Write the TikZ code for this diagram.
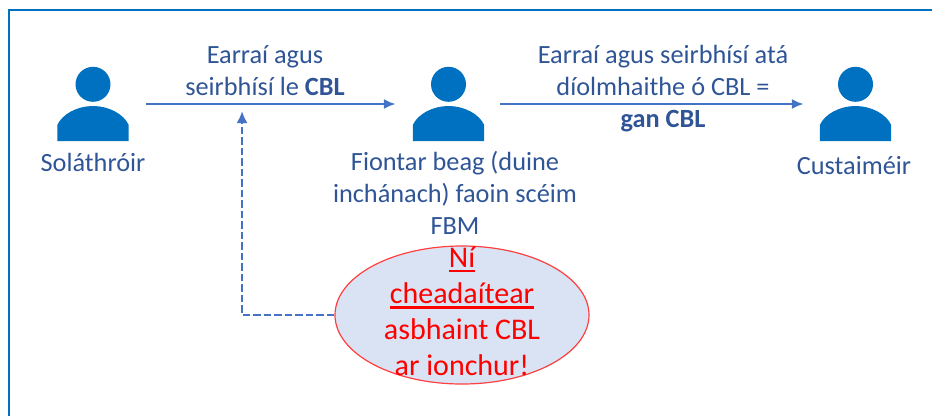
\documentclass[tikz,border=0pt]{standalone}
\usepackage{fontspec}
\setmainfont{Carlito}
\usetikzlibrary{shapes.geometric,arrows.meta}
\definecolor{frameblue}{HTML}{0070C0}
\definecolor{labelblue}{HTML}{2F5597}
\definecolor{arrowblue}{HTML}{4472C4}
\definecolor{ovalfill}{HTML}{DAE3F3}
\newcommand{\redul}[2]{\setbox0\hbox{#2}\rlap{\raisebox{#1}{\rule{\wd0}{2.4pt}}}\box0}
\tikzset{
  person/.style={minimum width=71pt,minimum height=74pt,inner sep=0pt},
  label/.style={text=labelblue,font=\fontsize{26.3}{32}\selectfont,align=center,inner sep=0pt,anchor=north},
  redtext/.style={text=red,font=\fontsize{30}{35.8}\selectfont,align=center,inner sep=0pt,anchor=north},
  flow/.style={draw=arrowblue,line width=2.4pt,-{Latex[length=12pt,width=10pt]}},
  dashflow/.style={draw=arrowblue,line width=2.4pt,dash pattern=on 7.5pt off 3pt,-{Latex[length=12pt,width=11pt]}},
}
\newcommand{\persondraw}[1]{%
  \fill[frameblue] (#1.north) ++(0,17.5) circle (17.5pt);
  \fill[frameblue] (#1.south west) -- ([yshift=-21pt]#1.west) .. controls ([xshift=5pt,yshift=-10pt]#1.west) and ([xshift=20pt,yshift=-2pt]#1.west) .. ([yshift=-2pt]#1.center) .. controls ([xshift=-20pt,yshift=-2pt]#1.east) and ([xshift=-5pt,yshift=-10pt]#1.east) .. ([yshift=-21pt]#1.east) -- (#1.south east) -- cycle;
}
\begin{document}
\begin{tikzpicture}[x=1pt,y=-1pt]
\useasboundingbox (0,0) rectangle (932,416);
\draw[frameblue,line width=2pt] (9,416) -- (9,10) -- (932,10);
\node[person] (sup) at (93,104) {};
\node[person] (sme) at (448.5,104) {};
\node[person] (cus) at (855.5,104) {};
\foreach \n in {sup,sme,cus}{\persondraw{\n}}
\node[label,anchor=base] (supl) at (93,171) {Soláthróir};
\node[label,anchor=base] (cusl) at (854,174) {Custaiméir};
\node[label] (l1) at (265,45) {Earraí agus\\seirbhísí le \textbf{CBL}};
\node[label] (l2) at (663,45) {Earraí agus seirbhísí atá\\díolmhaithe ó CBL =\\\textbf{gan CBL}};
\node[label] (l3) at (455,151) {Fiontar beag (duine\\inchánach) faoin scéim\\FBM};
\node[ellipse,draw=red!75!white,fill=ovalfill,line width=1.2pt,minimum width=254pt,minimum height=138pt,inner sep=0pt] (oval) at (462,315) {};
\node[redtext] (ovaltext) at (462,247) {\redul{-4.5pt}{Ní}\\\redul{-5pt}{cheadaítear}\\asbhaint CBL\\ar ionchur!};
\draw[flow] ([xshift=17.5pt]sup.east) -- ([xshift=-17pt]sme.west) coordinate[pos=0.384] (hit);
\draw[flow] ([xshift=16pt]sme.east) -- ([xshift=-16pt]cus.west);
\draw[dashflow] (oval.west) -| ([yshift=-7pt]hit);
\end{tikzpicture}
\end{document}
